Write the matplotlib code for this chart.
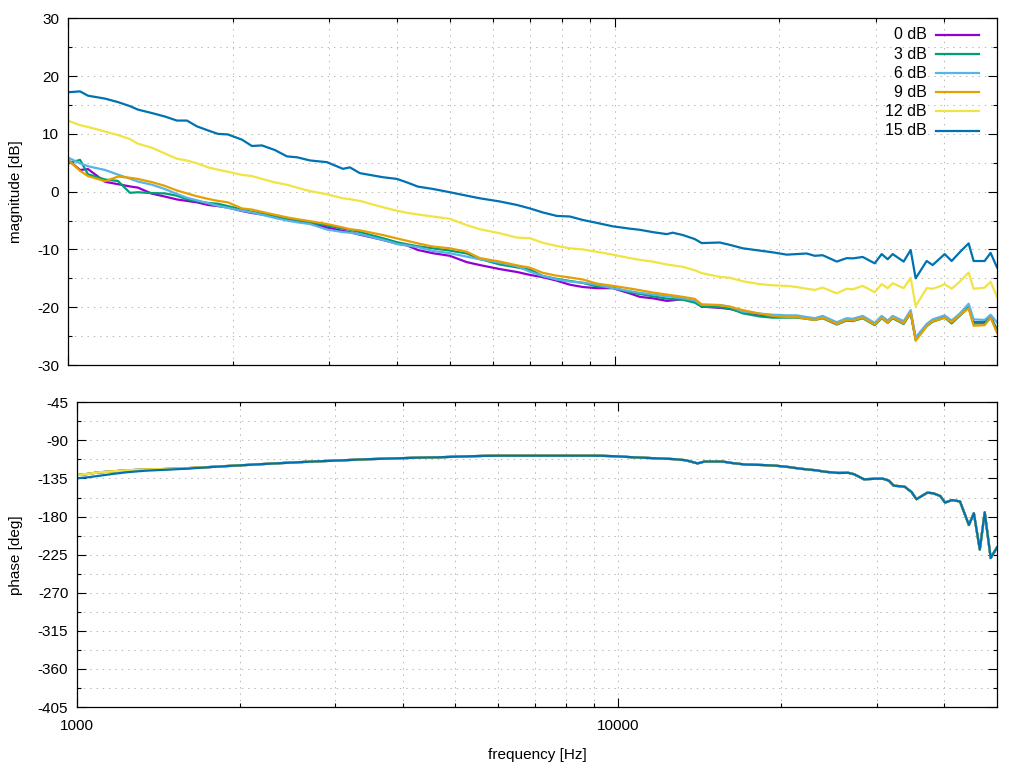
import matplotlib
matplotlib.use("Agg")
import matplotlib.pyplot as plt
from matplotlib.ticker import FixedLocator, NullFormatter

plt.rcParams["font.family"] = ["Liberation Sans", "DejaVu Sans"]
plt.rcParams["axes.unicode_minus"] = False

# frequency points [Hz]
freq_hz = [
    1000, 1052, 1088, 1169, 1234, 1298, 1342, 1424, 1504, 1582,
    1650, 1721, 1803, 1880, 1961, 2080, 2170, 2263, 2390, 2515,
    2623, 2770, 2976, 3183, 3278, 3419, 3766, 3996, 4168, 4366,
    4648, 4993, 5363, 5665, 6163, 6621, 6993, 7386, 7834, 8275,
    8742, 9271, 9916, 10652, 11110, 11733, 12446, 12764, 13312, 14002,
    14421, 15556, 16226, 17140, 18413, 19450, 20627, 21514, 22441, 23210,
    24005, 25462, 26556, 27235, 28405, 29876, 30770, 31557, 32228, 33755,
    34764, 35503, 37186, 38136, 39277, 40112, 41311, 42726, 44375, 45319,
    46480, 47466, 48680, 50000,
]

# magnitude [dB] per input level
mag_0db = [
    5.5, 3.75, 3.9, 1.7, 1.3, 0.9, 0.7, -0.35, -0.85, -1.35,
    -1.6, -1.85, -2.3, -2.5, -2.75, -3.35, -3.7, -3.95, -4.35, -4.7,
    -5.0, -5.4, -6.2, -6.8, -7.0, -7.45, -8.35, -9.0, -9.3, -10.1,
    -10.65, -11.1, -12.2, -12.7, -13.4, -13.9, -14.4, -14.8, -15.4, -16.1,
    -16.5, -16.7, -16.7, -17.6, -18.2, -18.45, -18.9, -18.8, -18.6, -19.0,
    -19.9, -20.1, -20.3, -20.8, -21.3, -21.5, -21.6, -21.6, -21.9, -22.1,
    -21.8, -22.9, -22.2, -22.3, -21.8, -23.0, -21.8, -22.6, -21.8, -22.8,
    -20.9, -25.5, -23.1, -22.4, -22.0, -21.6, -22.6, -21.4, -20.0, -22.6,
    -22.6, -22.6, -21.6, -24.0,
]
mag_3db = [
    4.9, 5.5, 3.0, 2.1, 1.85, -0.2, -0.1, -0.25, -0.3, -0.7,
    -1.3, -1.65, -1.95, -2.1, -2.5, -3.1, -3.5, -3.8, -4.3, -4.7,
    -4.9, -5.3, -5.85, -6.4, -6.6, -7.0, -8.05, -8.75, -9.1, -9.45,
    -9.8, -10.2, -10.7, -11.65, -12.6, -13.1, -13.5, -14.6, -15.1, -15.45,
    -15.8, -16.4, -16.6, -17.4, -17.7, -18.1, -18.5, -18.6, -18.7, -19.2,
    -19.9, -20.0, -20.2, -21.05, -21.6, -21.8, -21.8, -21.8, -22.0, -22.2,
    -21.9, -23.0, -22.3, -22.4, -21.9, -23.1, -21.9, -22.7, -21.9, -22.9,
    -21.0, -25.6, -23.3, -22.5, -22.1, -21.8, -22.8, -21.5, -20.0, -22.8,
    -22.8, -22.8, -21.8, -23.8,
]
mag_6db = [
    5.9, 4.9, 4.4, 3.75, 2.95, 2.25, 1.75, 1.2, 0.45, -0.4,
    -1.05, -1.5, -2.0, -2.45, -2.8, -3.3, -3.6, -4.0, -4.55, -5.0,
    -5.3, -5.6, -6.55, -7.0, -7.1, -7.35, -8.35, -9.05, -9.3, -9.6,
    -10.25, -10.65, -11.25, -11.7, -12.3, -12.9, -13.85, -14.6, -15.2, -15.55,
    -15.75, -16.1, -16.7, -17.2, -17.5, -17.8, -18.1, -18.2, -18.45, -18.85,
    -19.6, -19.6, -19.9, -20.75, -21.1, -21.3, -21.4, -21.4, -21.7, -21.9,
    -21.5, -22.6, -21.9, -22.0, -21.5, -22.7, -21.5, -22.3, -21.5, -22.4,
    -20.5, -25.2, -22.9, -22.1, -21.7, -21.4, -22.3, -21.1, -19.4, -22.1,
    -22.15, -22.2, -21.3, -22.6,
]
mag_9db = [
    5.5, 3.6, 2.7, 1.8, 2.6, 2.4, 2.2, 1.65, 1.0, 0.2,
    -0.3, -0.8, -1.25, -1.6, -1.85, -2.9, -3.1, -3.5, -4.0, -4.45,
    -4.75, -5.1, -5.6, -6.2, -6.5, -6.7, -7.5, -8.1, -8.5, -8.95,
    -9.5, -9.8, -10.4, -11.5, -12.1, -12.75, -13.15, -14.05, -14.55, -14.85,
    -15.2, -15.9, -16.3, -16.75, -17.05, -17.45, -17.8, -17.95, -18.2, -18.55,
    -19.5, -19.65, -19.9, -20.5, -21.1, -21.5, -21.7, -21.7, -22.0, -22.2,
    -21.8, -22.9, -22.2, -22.3, -21.8, -23.0, -21.8, -22.7, -21.8, -22.8,
    -20.9, -25.8, -23.3, -22.4, -22.1, -21.8, -22.6, -21.4, -20.2, -23.2,
    -23.15, -23.1, -21.8, -24.4,
]
mag_12db = [
    12.3, 11.5, 11.2, 10.4, 9.8, 9.1, 8.3, 7.6, 6.6, 5.7,
    5.4, 4.9, 4.2, 3.8, 3.45, 2.9, 2.7, 2.2, 1.6, 1.2,
    0.7, 0.1, -0.45, -1.15, -1.3, -1.6, -2.7, -3.3, -3.65, -3.95,
    -4.3, -4.7, -5.8, -6.5, -7.2, -7.95, -8.05, -8.85, -9.4, -9.8,
    -10.0, -10.4, -10.9, -11.5, -11.8, -12.1, -12.6, -12.75, -13.0, -13.6,
    -14.1, -14.75, -14.9, -15.5, -16.0, -16.2, -16.3, -16.5, -16.8, -17.0,
    -16.6, -17.6, -16.8, -16.9, -16.3, -17.4, -16.0, -16.7, -15.85, -16.7,
    -14.9, -19.8, -16.7, -16.8, -16.4, -16.0, -16.8, -15.6, -14.0, -16.8,
    -16.7, -16.6, -15.6, -18.2,
]
mag_15db = [
    17.2, 17.35, 16.6, 16.1, 15.5, 14.8, 14.2, 13.6, 13.0, 12.3,
    12.3, 11.3, 10.6, 10.0, 9.9, 9.0, 7.9, 8.0, 7.2, 6.1,
    5.95, 5.4, 5.1, 3.95, 4.2, 3.2, 2.5, 2.2, 1.6, 0.87,
    0.47, -0.1, -0.7, -1.15, -1.7, -2.3, -2.9, -3.6, -4.2, -4.3,
    -4.9, -5.4, -6.0, -6.4, -6.6, -7.0, -7.35, -7.1, -7.5, -8.2,
    -8.9, -8.8, -9.2, -9.8, -10.2, -10.5, -10.9, -10.8, -10.7, -11.1,
    -11.0, -12.1, -11.5, -11.55, -11.3, -12.4, -10.8, -11.7, -10.8, -12.1,
    -10.1, -15.0, -12.0, -12.7, -11.6, -10.8, -12.0, -10.5, -8.95, -12.0,
    -12.0, -12.0, -10.6, -13.1,
]

# phase [deg]; the lower levels only differ below ~2 kHz
phase_15db = [
    -134.8, -133.5, -132.2, -129.5, -127.7, -126.5, -125.8, -125.0, -124.3, -123.5,
    -122.8, -122.0, -121.2, -120.5, -119.8, -118.9, -118.2, -117.6, -116.8, -116.1,
    -115.5, -114.8, -114.0, -113.2, -112.8, -112.3, -111.5, -111.0, -110.6, -110.3,
    -110.0, -109.3, -108.7, -108.3, -108.1, -108.1, -108.1, -108.1, -108.1, -108.1,
    -108.1, -108.2, -108.8, -110.0, -110.5, -111.2, -111.9, -112.3, -113.5, -117.2,
    -115.0, -115.0, -116.8, -118.5, -119.1, -119.8, -121.5, -123.2, -124.5, -125.4,
    -127.0, -128.5, -128.3, -130.0, -136.0, -135.3, -135.3, -137.5, -143.5, -144.7,
    -151.0, -159.5, -151.8, -152.5, -155.7, -163.5, -160.5, -162.2, -190.0, -176.0,
    -219.0, -175.0, -229.0, -216.5,
]
phase_low_start = [
    -131.0, -129.5, -128.0, -126.5, -125.5, -124.8, -124.4, -124.0, -123.6, -123.0,
    -122.4, -121.8, -121.1, -120.4,
]
phase_low = phase_low_start + phase_15db[len(phase_low_start):]

labels = ["0 dB", "3 dB", "6 dB", "9 dB", "12 dB", "15 dB"]
colors = ["#9400d3", "#009e73", "#56b4e9", "#e69f00", "#f0e442", "#0072b2"]
magnitudes = [mag_0db, mag_3db, mag_6db, mag_9db, mag_12db, mag_15db]
phases = [phase_low, phase_low, phase_low, phase_low, phase_low, phase_15db]


def style_axes(ax, yticks, yminor):
    ax.set_xscale("log")
    ax.set_xlim(1000, 50000)
    ax.xaxis.set_major_locator(FixedLocator([1000, 10000]))
    ax.xaxis.set_minor_locator(FixedLocator([2000, 3000, 4000, 5000, 6000, 7000, 8000, 9000,
                                             20000, 30000, 40000]))
    ax.xaxis.set_minor_formatter(NullFormatter())
    ax.set_yticks(yticks)
    ax.set_yticks(yminor, minor=True)
    ax.set_ylim(yticks[0], yticks[-1])
    ax.grid(True, which="both", color="#b8b8b8", linestyle=(0, (1.5, 5)), linewidth=0.7)
    ax.tick_params(which="both", direction="in", top=True, right=True, width=0.8,
                   labelsize=11, colors="black")
    ax.tick_params(which="major", length=6.5)
    ax.tick_params(which="minor", length=3.2)
    ax.tick_params(axis="y", pad=6.3)
    ax.tick_params(axis="x", pad=8.5)
    for spine in ax.spines.values():
        spine.set_linewidth(0.9)


fig = plt.figure(figsize=(10.24, 7.68), dpi=100)
ax_mag = fig.add_axes([0.0664, 0.5247, 0.9072, 0.4515])
ax_ph = fig.add_axes([0.0752, 0.0794, 0.8984, 0.3968])

for mag, color in zip(magnitudes, colors):
    ax_mag.plot(freq_hz, mag, color=color, linewidth=1.6)
for ph, color in zip(phases, colors):
    ax_ph.plot(freq_hz, ph, color=color, linewidth=1.6)

style_axes(ax_mag, list(range(-30, 31, 10)), list(range(-25, 30, 10)))
ax_mag.set_xticklabels([])
style_axes(ax_ph, list(range(-405, -44, 45)), [-382.5 + 45 * i for i in range(8)])
ax_ph.set_xticklabels(["1000", "10000"])

# gnuplot style key: label right-aligned, sample line to the right
for i, (label, color) in enumerate(zip(labels, colors)):
    y = 0.9518 - i * 0.0551
    ax_mag.text(0.9243, y, label, transform=ax_mag.transAxes, ha="right", va="center", fontsize=11.5)
    ax_mag.plot([0.9343, 0.9806], [y, y], transform=ax_mag.transAxes, color=color, linewidth=1.6)

fig.text(16.5 / 1024, 1 - 191.5 / 768, "magnitude [dB]", rotation=90, ha="center", va="center", fontsize=11)
fig.text(16.5 / 1024, 1 - 555 / 768, "phase [deg]", rotation=90, ha="center", va="center", fontsize=11)
fig.text(537 / 1024, 1 - 755 / 768, "frequency [Hz]", ha="center", va="center", fontsize=11)

fig.savefig("out.png", dpi=100)
